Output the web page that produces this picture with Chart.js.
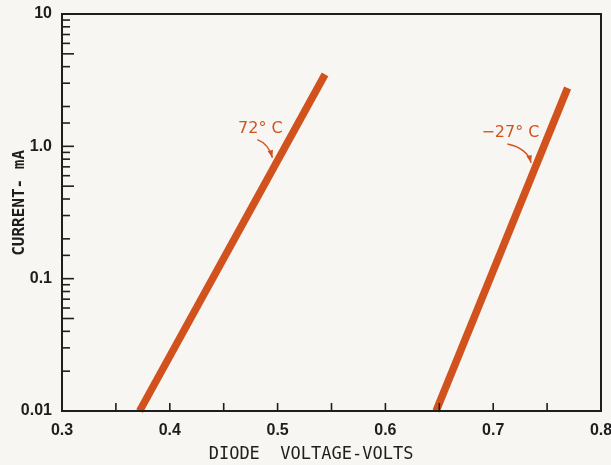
<!DOCTYPE html>
<html>
<head>
<meta charset="utf-8">
<script src="https://cdn.jsdelivr.net/npm/chart.js@4.4.1/dist/chart.umd.min.js"></script>
<style>
  html, body { margin: 0; padding: 0; background: #f7f6f2; }
  #c { display: block; }
</style>
</head>
<body>
<canvas id="c" width="611" height="465"></canvas>
<script>
// series data (volts, mA)
const seriesNames = ['72° C', '−27° C'];
const hotVolts = [0.372, 0.544];
const hotCurrent = [0.01, 3.5];
const coldVolts = [0.647, 0.769];
const coldCurrent = [0.01, 2.76];

// x / y tick labels
const xTickLabels = ['0.3', '0.4', '0.5', '0.6', '0.7', '0.8'];
const yTickLabels = { 0.01: '0.01', 0.1: '0.1', 1: '1.0', 10: '10' };

// annotation text anchors and arrow targets (data units)
const noteText = ['72° C', '−27° C'];
const noteX = [0.484, 0.716];
const noteY = [1.36, 1.26];
const arrowX = [0.497, 0.737];
const arrowY = [0.82, 0.75];

const ink = '#1e1e1e';
const lineColor = '#d2521e';

function pts(xs, ys) {
  return xs.map((x, i) => ({ x: x, y: ys[i] }));
}

// inward tick marks + frame + notes
const paperPlugin = {
  id: 'paper',
  afterDatasetsDraw(chart) {
    const ctx = chart.ctx;
    const a = chart.chartArea;
    const xs = chart.scales.x, ys = chart.scales.y;
    ctx.save();
    ctx.strokeStyle = ink;
    ctx.lineWidth = 1.6;
    // x ticks
    xs.ticks.forEach(t => {
      const px = xs.getPixelForValue(t.value);
      if (px <= a.left + 1 || px >= a.right - 1) return;
      ctx.beginPath();
      ctx.moveTo(px, a.bottom);
      ctx.lineTo(px, a.bottom - 8);
      ctx.stroke();
    });
    // y ticks
    ys.ticks.forEach(t => {
      const py = ys.getPixelForValue(t.value);
      const m = t.value / Math.pow(10, Math.floor(Math.log10(t.value) + 1e-9));
      const major = Math.abs(m - 1) < 1e-6 || Math.abs(m - 5) < 1e-6;
      if (py >= a.bottom - 1) return;
      ctx.beginPath();
      ctx.moveTo(a.left, py);
      ctx.lineTo(a.left + (major ? 12 : 8), py);
      ctx.stroke();
    });
    // frame
    ctx.lineWidth = 2;
    ctx.strokeRect(a.left, a.top, a.right - a.left, a.bottom - a.top);

    // notes
    ctx.fillStyle = lineColor;
    ctx.strokeStyle = lineColor;
    ctx.font = '16px "DejaVu Sans"';
    ctx.textAlign = 'center';
    ctx.textBaseline = 'middle';
    noteText.forEach((txt, i) => {
      const tx = xs.getPixelForValue(noteX[i]);
      const ty = ys.getPixelForValue(noteY[i]);
      ctx.fillText(txt, tx, ty);
      const ex = xs.getPixelForValue(arrowX[i]) - 2;
      const ey = ys.getPixelForValue(arrowY[i]);
      const sx = tx - 3, sy = ty + 11;
      ctx.lineWidth = 1.4;
      ctx.beginPath();
      ctx.moveTo(sx, sy);
      ctx.quadraticCurveTo(ex - 4, sy + 4, ex, ey);
      ctx.stroke();
      // arrow head
      const ang = Math.atan2(ey - (sy + 4), 4);
      ctx.beginPath();
      ctx.moveTo(ex, ey);
      ctx.lineTo(ex - 8 * Math.cos(ang - 0.35), ey - 8 * Math.sin(ang - 0.35));
      ctx.lineTo(ex - 8 * Math.cos(ang + 0.35), ey - 8 * Math.sin(ang + 0.35));
      ctx.closePath();
      ctx.fill();
    });
    ctx.restore();
  }
};

new Chart(document.getElementById('c'), {
  type: 'scatter',
  data: {
    datasets: [
      { label: seriesNames[0], data: pts(hotVolts, hotCurrent) },
      { label: seriesNames[1], data: pts(coldVolts, coldCurrent) }
    ].map(d => Object.assign(d, {
      showLine: true,
      borderColor: lineColor,
      borderWidth: 7.5,
      borderCapStyle: 'butt',
      pointRadius: 0,
      clip: false
    }))
  },
  options: {
    responsive: false,
    animation: false,
    layout: { padding: { top: 14, right: 10, left: 0, bottom: 0 } },
    plugins: { legend: { display: false }, tooltip: { enabled: false } },
    scales: {
      x: {
        type: 'linear',
        min: 0.3,
        max: 0.8,
        grid: { display: false, drawTicks: false },
        border: { display: false },
        ticks: {
          stepSize: 0.05,
          padding: 10,
          maxRotation: 0,
          color: ink,
          font: { family: 'Liberation Sans', size: 16, weight: 'bold' },
          callback: v => {
            const k = Math.round(v * 100);
            return k % 10 === 0 ? xTickLabels[(k - 30) / 10] : '';
          }
        },
        title: {
          display: true,
          text: 'DIODE  VOLTAGE-VOLTS    ',
          color: ink,
          font: { family: 'DejaVu Sans Mono', size: 17 },
          padding: { top: 0, bottom: 0 }
        },
        afterFit: s => { s.height = 54; s.paddingLeft = 0; s.paddingRight = 0; }
      },
      y: {
        type: 'logarithmic',
        min: 0.01,
        max: 10,
        grid: { display: false, drawTicks: false },
        border: { display: false },
        ticks: {
          padding: 10,
          color: ink,
          font: { family: 'Liberation Sans', size: 16, weight: 'bold' },
          autoSkip: false,
          callback: v => {
            for (const k in yTickLabels) {
              if (Math.abs(Number(k) - v) / v < 1e-6) return yTickLabels[k];
            }
            return '';
          }
        },
        title: {
          display: true,
          text: '  CURRENT- mA',
          color: ink,
          font: { family: 'DejaVu Sans Mono', size: 16, weight: 'bold' },
          padding: { top: 10, bottom: 0 }
        },
        afterFit: s => { s.width = 62; s.paddingTop = 0; s.paddingBottom = 0; }
      }
    }
  },
  plugins: [paperPlugin]
});
</script>
</body>
</html>
